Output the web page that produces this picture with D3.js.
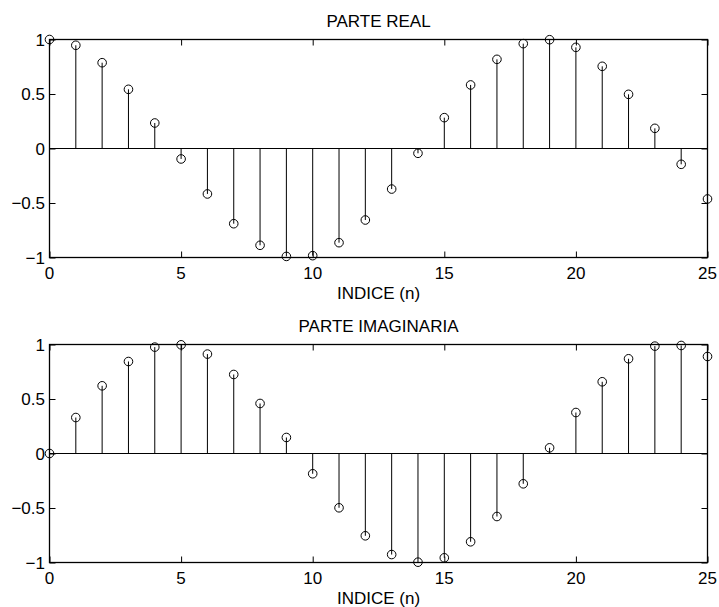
<!DOCTYPE html>
<html>
<head>
<meta charset="utf-8">
<script src="https://cdn.jsdelivr.net/npm/d3@7"></script>
<style>
  body { margin: 0; background: #fff; }
  svg text { font-family: "Liberation Sans", Arial, Helvetica, sans-serif; fill: #000; }
</style>
</head>
<body>
<div id="charts"></div>
<script>
const width = 719;
const height = 607;
const fontSize = 17;

// indices n = 0..25
const indices = d3.range(0, 26);
// real part
const realValues = [1.0, 0.947, 0.787, 0.543, 0.234, -0.096, -0.417, -0.69, -0.888, -0.99,
    -0.983, -0.864, -0.656, -0.372, -0.044, 0.283, 0.583, 0.818, 0.962, 0.998,
    0.928, 0.754, 0.497, 0.185, -0.145, -0.463];
// imaginary part
const imagValues = [0.0, 0.33, 0.621, 0.844, 0.976, 0.997, 0.912, 0.725, 0.459, 0.147,
    -0.186, -0.498, -0.755, -0.927, -0.997, -0.957, -0.81, -0.578, -0.278, 0.052,
    0.376, 0.658, 0.869, 0.985, 0.991, 0.89];
const xTicks = [0, 5, 10, 15, 20, 25];
const yTicks = [-1, -0.5, 0, 0.5, 1];
const titles = ["PARTE REAL", "PARTE IMAGINARIA"];
const xLabel = "INDICE (n)";

const panels = [
    {top: 39.5, bottom: 257.5},
    {top: 344.5, bottom: 562.5}
];
const left = 49.5;
const right = 707.5;
const tickLen = 6;

const svg = d3.select("#charts").append("svg")
    .attr("width", width)
    .attr("height", height);

/**
 * Build the axes box with inward ticks on all four sides, title and x label.
 */
function setupChart(panel, title) {
    const x = d3.scaleLinear().domain([0, 25]).range([left, right]);
    const y = d3.scaleLinear().domain([-1, 1]).range([panel.bottom, panel.top]);
    const g = svg.append("g");

    // Inward ticks on every side.
    const fmt = d3.format("");
    g.append("g")
        .attr("transform", `translate(0,${panel.bottom})`)
        .call(d3.axisTop(x).tickValues(xTicks).tickSize(tickLen).tickFormat(""))
        .call(s => s.select(".domain").remove());
    g.append("g")
        .attr("transform", `translate(0,${panel.top})`)
        .call(d3.axisBottom(x).tickValues(xTicks).tickSize(tickLen).tickFormat(""))
        .call(s => s.select(".domain").remove());
    g.append("g")
        .attr("transform", `translate(${left},0)`)
        .call(d3.axisRight(y).tickValues(yTicks).tickSize(tickLen).tickFormat(""))
        .call(s => s.select(".domain").remove());
    g.append("g")
        .attr("transform", `translate(${right},0)`)
        .call(d3.axisLeft(y).tickValues(yTicks).tickSize(tickLen).tickFormat(""))
        .call(s => s.select(".domain").remove());
    g.selectAll(".tick line").attr("stroke", "#000").attr("stroke-width", 1);

    // Tick labels.
    g.append("g").selectAll("text")
        .data(xTicks)
        .enter().append("text")
        .attr("x", d => x(d))
        .attr("y", panel.bottom + 21.5)
        .attr("text-anchor", "middle")
        .style("font-size", fontSize + "px")
        .text(d => fmt(d));
    g.append("g").selectAll("text")
        .data(yTicks)
        .enter().append("text")
        .attr("x", left - 4.5)
        .attr("y", d => y(d) + 6.3)
        .attr("text-anchor", "end")
        .style("font-size", fontSize + "px")
        .text(d => fmt(d));

    // Box.
    g.append("rect")
        .attr("x", left)
        .attr("y", panel.top)
        .attr("width", right - left)
        .attr("height", panel.bottom - panel.top)
        .attr("fill", "none")
        .attr("stroke", "#000")
        .attr("stroke-width", 1.3);

    // Title and x label.
    g.append("text")
        .attr("x", (left + right) / 2)
        .attr("y", panel.top - 12.8)
        .attr("text-anchor", "middle")
        .style("font-size", fontSize + "px")
        .text(title);
    g.append("text")
        .attr("x", (left + right) / 2)
        .attr("y", panel.bottom + 41.5)
        .attr("text-anchor", "middle")
        .style("font-size", fontSize + "px")
        .text(xLabel);

    return {x, y};
}

function drawStems(axis, values) {
    const {x, y} = axis;
    const data = indices.map((n, i) => ({n, v: values[i]}));

    // Baseline at zero.
    svg.append("line")
        .attr("x1", x(0)).attr("x2", x(25))
        .attr("y1", y(0)).attr("y2", y(0))
        .attr("stroke", "#000")
        .attr("stroke-width", 1);

    svg.append("g")
        .selectAll("line")
        .data(data)
        .enter().append("line")
        .attr("x1", d => x(d.n)).attr("x2", d => x(d.n))
        .attr("y1", y(0)).attr("y2", d => y(d.v))
        .attr("stroke", "#000")
        .attr("stroke-width", 1);

    svg.append("g")
        .selectAll("circle")
        .data(data)
        .enter().append("circle")
        .attr("cx", d => x(d.n))
        .attr("cy", d => y(d.v))
        .attr("r", 4.3)
        .attr("fill", "none")
        .attr("stroke", "#000")
        .attr("stroke-width", 1);
}

const topAxis = setupChart(panels[0], titles[0]);
drawStems(topAxis, realValues);
const bottomAxis = setupChart(panels[1], titles[1]);
drawStems(bottomAxis, imagValues);
</script>
</body>
</html>
